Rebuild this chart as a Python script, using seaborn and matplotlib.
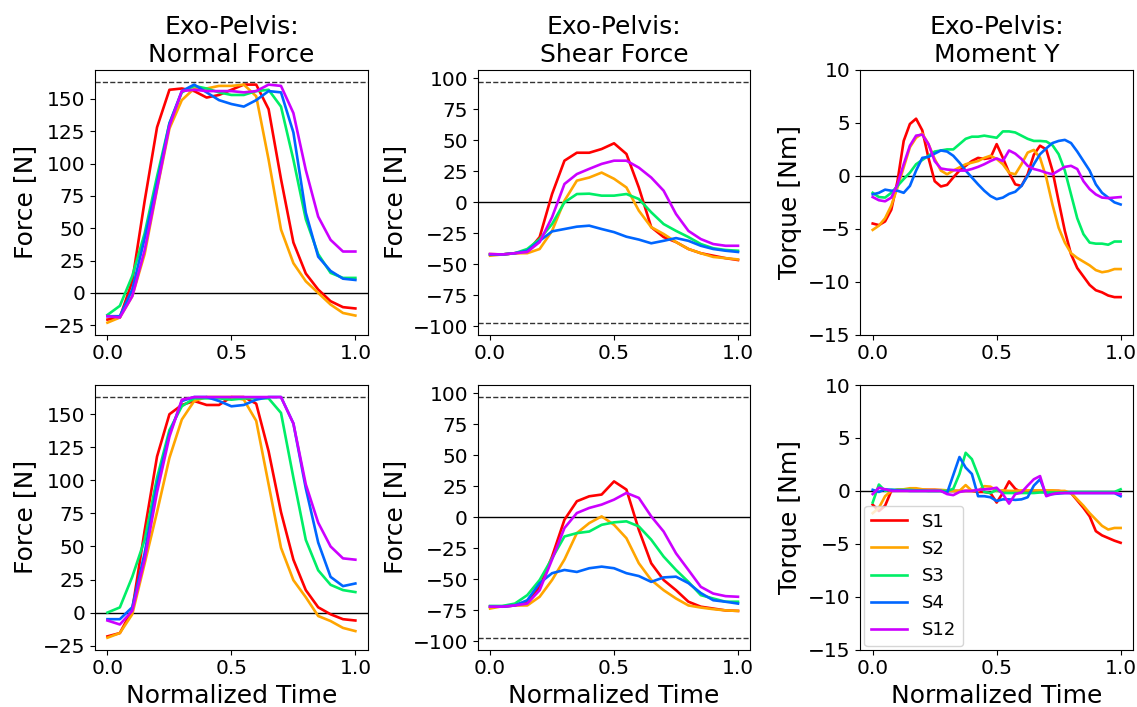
import numpy as np
import pandas as pd
import matplotlib
matplotlib.use("Agg")
import matplotlib.pyplot as plt
import seaborn as sns

# ---------------- data ----------------
subjects = ["S1", "S2", "S3", "S4", "S12"]
colors = ["#ff0000", "#ffa500", "#00ee66", "#0066ff", "#cc00ff"]

time_coarse = [0.0, 0.05, 0.1, 0.15, 0.2, 0.25, 0.3, 0.35, 0.4, 0.45, 0.5,
               0.55, 0.6, 0.65, 0.7, 0.75, 0.8, 0.85, 0.9, 0.95, 1.0]
time_fine = [0.0, 0.025, 0.05, 0.075, 0.1, 0.125, 0.15, 0.175, 0.2, 0.225,
             0.25, 0.275, 0.3, 0.325, 0.35, 0.375, 0.4, 0.425, 0.45, 0.475,
             0.5, 0.525, 0.55, 0.575, 0.6, 0.625, 0.65, 0.675, 0.7, 0.725,
             0.75, 0.775, 0.8, 0.825, 0.85, 0.875, 0.9, 0.925, 0.95, 0.975, 1.0]

normal_limit = 163
shear_limit = 97

# Top row: Normal force
nf_top_S1 = [-20.6, -19, 9, 71, 128, 157, 158, 156, 151, 153, 157, 161, 161, 142, 88, 39, 15, 2.6, -6.4, -11, -12]
nf_top_S2 = [-23, -19, -2.6, 30, 80, 127, 149, 158, 158, 160, 160, 161, 152, 103, 49, 23, 9, 0, -9, -15.5, -17.5]
nf_top_S3 = [-17, -10, 13, 46, 90, 131, 155, 160, 158, 155, 153, 153, 156, 157, 144, 103, 57, 30, 15.5, 11.6, 11.6]
nf_top_S4 = [-18, -18, 2.6, 42, 85, 131, 156, 161, 155, 149, 146, 144, 149, 156, 155, 124, 62, 28, 17, 11, 10]
nf_top_S12 = [-18, -19, -2.6, 33, 81, 129, 156, 157, 156, 156, 156, 155, 156, 161, 160, 139, 95, 59, 41, 32, 32]

# Top row: Shear force
sf_top_S1 = [-41.7, -42, -41, -40, -28, 6.7, 33.6, 40, 40, 43, 47.6, 39, 12, -20, -28, -32, -37.6, -41, -43, -45, -46.5]
sf_top_S2 = [-43, -42, -41, -41, -37.6, -23, 1.3, 17.5, 20, 24, 19, 12, -6.7, -20, -25.5, -32, -37.6, -41, -44, -45, -46]
sf_top_S3 = [-42, -42, -41, -37.6, -29.6, -17.5, 0, 6.7, 7, 5.4, 5.4, 6.7, 2.7, -8, -17.5, -23, -28, -33.6, -37, -38.4, -39]
sf_top_S4 = [-42, -42, -41, -39, -31, -23.4, -21.5, -19.6, -18.8, -21.5, -24, -27.7, -30, -33, -31, -28.8, -31, -35, -37.6, -39, -40]
sf_top_S12 = [-41.7, -42, -41, -40, -32, -12, 14.8, 22.8, 27, 31, 33.6, 33.6, 28, 20, 9.4, -9.4, -23, -29.6, -33.6, -35, -35]

# Top row: Moment Y
my_top_S1 = [-4.5, -4.65, -4.3, -3.2, -0.5, 3.3, 4.9, 5.4, 4.3, 1.7, -0.5, -1.0, -0.85, -0.15, 0.5, 0.95,
             1.4, 1.7, 1.6, 1.7, 3.0, 1.7, 0.3, -0.8, -0.95, 0.15, 2.0, 2.85, 2.5, 0.5, -2.4, -5.2, -7.4,
             -8.7, -9.5, -10.3, -10.8, -11.0, -11.3, -11.45, -11.45]
my_top_S2 = [-5.1, -4.7, -4.0, -2.8, -1.1, 0.8, 2.7, 3.6, 4.0, 3.0, 1.6, 0.5, 0.15, 0.5, 0.8, 1.1,
             1.25, 1.4, 1.7, 1.9, 1.6, 1.1, 0.3, 0.15, 1.1, 2.2, 2.45, 1.7, -0.15, -2.7, -4.9, -6.3, -7.3,
             -7.75, -8.1, -8.45, -8.9, -9.1, -9.0, -8.8, -8.8]
my_top_S3 = [-1.6, -2.0, -2.05, -1.6, -0.95, -0.3, 0.3, 1.1, 1.5, 1.9, 2.3, 2.4, 2.5, 2.5, 3.0, 3.5,
             3.7, 3.7, 3.8, 3.7, 3.6, 4.2, 4.2, 4.1, 3.8, 3.5, 3.3, 3.3, 3.25, 2.9, 2.05, 0.5, -1.75,
             -4.0, -5.5, -6.3, -6.4, -6.4, -6.5, -6.2, -6.2]
my_top_S4 = [-1.75, -1.6, -1.3, -1.4, -1.4, -1.6, -0.95, 0.5, 1.7, 1.8, 2.1, 2.4, 2.3, 1.9, 1.25, 0.5,
             -0.15, -0.8, -1.4, -1.9, -2.2, -2.05, -1.7, -1.5, -0.95, 0.0, 1.1, 2.05, 2.6, 3.1, 3.3, 3.4,
             3.1, 2.3, 1.4, 0.5, -0.8, -1.6, -2.05, -2.5, -2.7]
my_top_S12 = [-2.0, -2.3, -2.4, -2.05, -0.8, 1.1, 2.85, 3.8, 3.9, 3.0, 1.4, 0.7, 0.6, 0.55, 0.5, 0.5,
              0.65, 0.85, 1.1, 1.4, 1.65, 1.4, 2.4, 2.1, 1.6, 0.95, 0.65, 0.5, 0.3, 0.15, 0.5, 0.85,
              0.95, 0.65, -0.5, -1.25, -1.75, -2.05, -2.1, -2.05, -2.0]

# Bottom row: Normal force
nf_bot_S1 = [-18, -15.5, 2, 62, 118, 150, 157, 160, 157, 157, 163, 163, 158, 122, 76, 40, 17, 4, -1.3, -5, -6]
nf_bot_S2 = [-19, -15.5, -1.3, 37, 76, 117, 146, 160, 163, 163, 163, 161, 145, 97, 49, 24.5, 11.6, -2.6, -6.4, -11.6, -14]
nf_bot_S3 = [0, 3.9, 27, 55, 102, 138, 156, 162, 162, 162, 161, 162, 162, 162, 151, 102, 55, 32, 21, 17, 15.5]
nf_bot_S4 = [-5, -5, 4, 45, 97, 135, 160, 163, 163, 160, 156, 157, 161, 163, 163, 143, 94, 53, 27, 20, 22]
nf_bot_S12 = [-6, -9, 1.3, 40, 91, 133, 161, 163, 163, 163, 163, 163, 163, 163, 163, 143, 97, 68, 50, 41, 40]

# Bottom row: Shear force
sf_bot_S1 = [-72, -72, -71, -68, -56, -31.6, -1.9, 13, 17, 18.4, 29, 22.4, -10, -37, -50.5, -58.7, -68, -72, -73.5, -75, -75.4]
sf_bot_S2 = [-73.5, -71.6, -71, -71, -64, -50.5, -34, -12.7, -4.6, 0.8, -6, -16.8, -37, -50.5, -58.7, -65.4, -71, -72.7, -74, -75, -75.4]
sf_bot_S3 = [-71.4, -71.4, -69.5, -62.7, -50.5, -33, -15.4, -12.7, -11.4, -6, -4, -3.2, -7.3, -18, -31.6, -42.4, -52, -62.7, -65.4, -68, -68]
sf_bot_S4 = [-72, -72, -71, -66.8, -53, -45, -42.4, -44, -41, -39.7, -41, -45, -47.3, -52, -48.4, -47.8, -53, -61, -66.8, -68, -69.5]
sf_bot_S12 = [-72, -72, -71, -69.5, -58.7, -34, -8.6, 3.5, 7.6, 10.3, 14.3, 19.7, 15.7, 0.8, -11.4, -29, -42.4, -56, -61.4, -63.5, -64]

# Bottom row: Moment Y
my_bot_S1 = [-1.3, -1.9, -1.4, 0.0, 0.1, 0.1, 0.1, 0.1, 0.1, 0.1, 0.1, 0.05, 0.0, 0.0, 0.0, 0.0,
             0.0, -0.1, -0.1, -0.2, -1.1, -0.2, 0.9, 0.2, -0.15, 0.0, 0.0, 0.0, 0.0, 0.0, 0.0, -0.1,
             -0.2, -0.9, -1.6, -2.4, -3.8, -4.2, -4.45, -4.7, -4.9]
my_bot_S2 = [-2.1, -1.6, -0.5, 0.0, 0.1, 0.15, 0.25, 0.25, 0.15, 0.1, 0.1, 0.1, 0.05, 0.0, 0.0, 0.55,
             0.0, 0.0, 0.45, 0.4, 0.0, 0.05, 0.0, 0.0, 0.05, 0.05, 0.05, 0.05, 0.05, 0.05, 0.0, 0.0,
             -0.2, -0.8, -1.4, -2.1, -2.7, -3.3, -3.65, -3.5, -3.5]
my_bot_S3 = [-1.1, 0.6, 0.0, 0.1, 0.1, 0.1, 0.1, 0.05, 0.05, 0.0, 0.0, 0.0, 0.0, 0.2, 1.6, 3.6,
             3.0, 1.5, -0.1, -0.2, 0.1, -0.2, -0.2, -0.2, -0.2, -0.2, -0.2, -0.15, -0.15, -0.15, -0.15, -0.15,
             -0.1, -0.1, -0.1, -0.1, -0.1, -0.1, -0.1, -0.1, 0.15]
my_bot_S4 = [0.1, -0.1, 0.15, 0.1, 0.05, 0.05, 0.0, 0.0, 0.0, 0.0, 0.0, 0.0, -0.2, 1.5, 3.2, 2.2,
             1.6, -0.5, -0.5, -0.6, -0.95, -0.8, -0.8, -0.85, -0.8, -0.6, 0.5, 1.1, -0.4, -0.3, -0.25, -0.2,
             -0.2, -0.2, -0.2, -0.2, -0.2, -0.2, -0.2, -0.2, -0.5]
my_bot_S12 = [-0.3, 0.3, 0.15, 0.0, 0.0, 0.0, 0.0, 0.0, 0.0, 0.0, 0.0, 0.0, -0.3, -0.4, -0.1, 0.0,
              0.0, 0.1, 0.15, 0.2, 0.3, -0.3, -1.2, -0.3, -0.15, 0.5, 1.1, 1.4, -0.5, -0.3, -0.2, -0.2,
              -0.2, -0.2, -0.2, -0.2, -0.2, -0.2, -0.2, -0.2, -0.3]

panels = [
    [(time_coarse, [nf_top_S1, nf_top_S2, nf_top_S3, nf_top_S4, nf_top_S12]),
     (time_coarse, [sf_top_S1, sf_top_S2, sf_top_S3, sf_top_S4, sf_top_S12]),
     (time_fine, [my_top_S1, my_top_S2, my_top_S3, my_top_S4, my_top_S12])],
    [(time_coarse, [nf_bot_S1, nf_bot_S2, nf_bot_S3, nf_bot_S4, nf_bot_S12]),
     (time_coarse, [sf_bot_S1, sf_bot_S2, sf_bot_S3, sf_bot_S4, sf_bot_S12]),
     (time_fine, [my_bot_S1, my_bot_S2, my_bot_S3, my_bot_S4, my_bot_S12])],
]
titles = ["Exo-Pelvis:\nNormal Force", "Exo-Pelvis:\nShear Force", "Exo-Pelvis:\nMoment Y"]
ylabels = ["Force [N]", "Force [N]", "Torque [Nm]"]
yticks = [[-25, 0, 25, 50, 75, 100, 125, 150],
          [-100, -75, -50, -25, 0, 25, 50, 75, 100],
          [-15, -10, -5, 0, 5, 10]]

# ---------------- plot ----------------
plt.rcParams["font.family"] = ["DejaVu Sans"]
fig, axes = plt.subplots(2, 3, figsize=(11.37, 7.07), dpi=100)
fig.subplots_adjust(left=0.0836, right=0.9965, top=0.901, bottom=0.081,
                    wspace=0.403, hspace=0.19)

for r in range(2):
    for c in range(3):
        ax = axes[r, c]
        t, series = panels[r][c]
        df = pd.DataFrame({
            "time": np.tile(np.asarray(t, dtype=float), len(subjects)),
            "value": np.concatenate([np.asarray(s, dtype=float) for s in series]),
            "subject": np.repeat(subjects, len(t)),
        })
        ax.axhline(0, color="k", lw=1.0, zorder=1)
        if c == 0:
            ax.axhline(normal_limit, color="k", lw=1.0, ls="--", alpha=0.8)
        elif c == 1:
            ax.axhline(shear_limit, color="k", lw=1.0, ls="--", alpha=0.8)
            ax.axhline(-shear_limit, color="k", lw=1.0, ls="--", alpha=0.8)
        sns.lineplot(data=df, x="time", y="value", hue="subject", hue_order=subjects,
                     palette=colors, estimator=None, sort=False, lw=1.9,
                     ax=ax, legend=(r == 1 and c == 2))
        if c == 2:
            ax.set_ylim(-15, 10)
        ax.set_yticks(yticks[c])
        ax.set_xticks([0.0, 0.5, 1.0])
        ax.tick_params(labelsize=14.5)
        ax.set_ylabel(ylabels[c], fontsize=18)
        if r == 0:
            ax.set_title(titles[c], fontsize=18)
            ax.set_xlabel("")
        else:
            ax.set_xlabel("Normalized Time", fontsize=18)

leg_ax = axes[1, 2]
handles, labels = leg_ax.get_legend_handles_labels()
leg_ax.legend(handles, labels, loc="lower left", fontsize=13, borderaxespad=0.2)

fig.savefig("out.png", dpi=100)
